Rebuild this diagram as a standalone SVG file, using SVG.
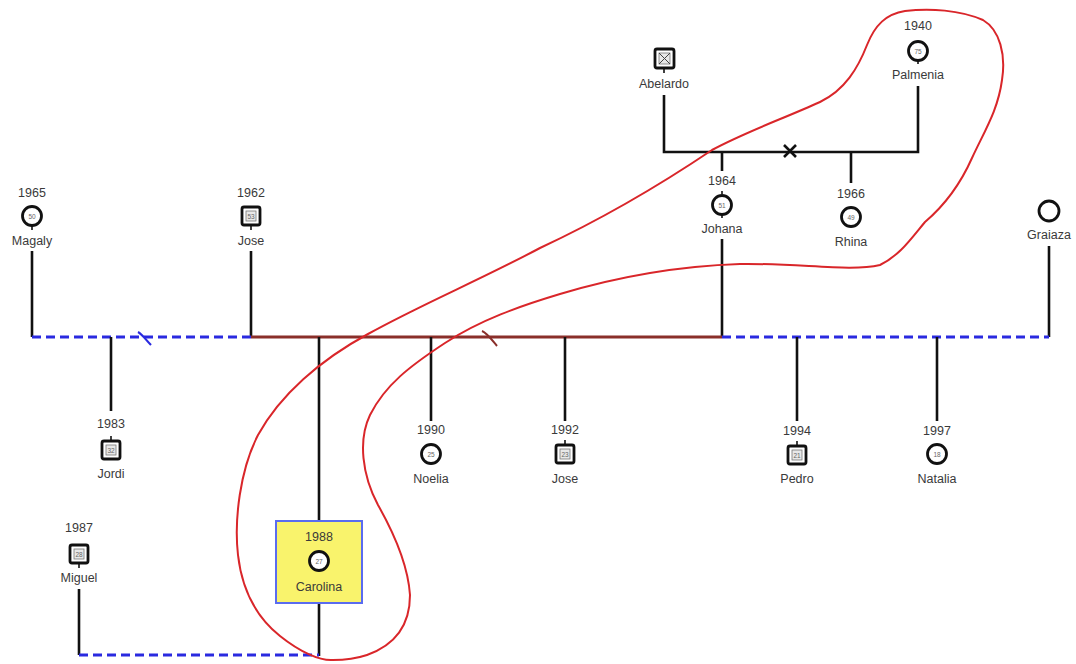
<svg xmlns="http://www.w3.org/2000/svg" width="1076" height="664" viewBox="0 0 1076 664">
  <style>
    .lbl { font-family: "Liberation Sans", Arial, sans-serif; font-size: 12.5px; fill: #3a3a3a; text-anchor: middle; }
    .age { font-family: "Liberation Sans", Arial, sans-serif; font-size: 6.5px; fill: #666; text-anchor: middle; }
    .f { fill: #ffffff; stroke: #111; stroke-width: 2.8; }
    .m { fill: #ffffff; stroke: #111; stroke-width: 2.8; }
    .in { fill: #e8e8e8; stroke: #777; stroke-width: 0.8; }
    .tick { stroke: #111; stroke-width: 1.6; }
    .line { stroke: #111; stroke-width: 2.6; fill: none; }
    .dash { stroke: #2a2ae0; stroke-width: 3; stroke-dasharray: 9 5; fill: none; }
    .union { stroke: #8a2f2a; stroke-width: 3; fill: none; }
    .loop { stroke: #d9262a; stroke-width: 2; fill: none; stroke-linejoin: round; }
  </style>
  <rect width="1076" height="664" fill="#ffffff"/>

  <!-- connectors -->
  <g id="connectors">
    <!-- Abelardo + Palmenia -->
    <polyline class="line" points="664,95 664,152 918,152 918,86"/>
    <path d="M784,145 L796,157 M796,145 L784,157" stroke="#111" stroke-width="2.6"/>
    <line class="line" x1="722" y1="152" x2="722" y2="171"/>
    <line class="line" x1="851" y1="152" x2="851" y2="183"/>
    <!-- Johana to main line -->
    <line class="line" x1="722" y1="239" x2="722" y2="337"/>
    <!-- Magaly, Jose, Graiaza drops -->
    <line class="line" x1="32" y1="251" x2="32" y2="337"/>
    <line class="line" x1="251" y1="251" x2="251" y2="337"/>
    <line class="line" x1="1049" y1="246" x2="1049" y2="337"/>
    <!-- main partner line -->
    <line class="dash" x1="32" y1="337" x2="251" y2="337"/>
    <path d="M138,332 C142,334 146,340 151,345" stroke="#2a2ae0" stroke-width="2.2" fill="none"/>
    <line class="union" x1="251" y1="337" x2="722" y2="337"/>
    <path d="M482,331 C487,333 492,340 497,346" stroke="#8a2f2a" stroke-width="2" fill="none"/>
    <line class="dash" x1="722" y1="337" x2="1049" y2="337"/>
    <!-- children drops -->
    <line class="line" x1="111" y1="337" x2="111" y2="411"/>
    <line class="line" x1="319" y1="337" x2="319" y2="521"/>
    <line class="line" x1="319" y1="603" x2="319" y2="656"/>
    <line class="line" x1="431" y1="337" x2="431" y2="421"/>
    <line class="line" x1="565" y1="337" x2="565" y2="421"/>
    <line class="line" x1="797" y1="337" x2="797" y2="421"/>
    <line class="line" x1="937" y1="337" x2="937" y2="421"/>
    <!-- Miguel + Carolina -->
    <line class="line" x1="79" y1="589" x2="79" y2="655"/>
    <line class="dash" x1="79" y1="655" x2="319" y2="655"/>
  </g>

  <!-- Abelardo -->
  <g id="abelardo">
    <rect class="m" x="655" y="49" width="19" height="19" rx="2"/>
    <rect class="in" x="659" y="53" width="11" height="11"/>
    <path d="M659,53 L670,64 M670,53 L659,64" stroke="#444" stroke-width="1"/>
    <line class="tick" x1="664" y1="68" x2="664" y2="73"/>
    <text class="lbl" x="664" y="88">Abelardo</text>
  </g>

  <!-- Palmenia -->
  <g id="palmenia">
    <text class="lbl" x="918" y="30">1940</text>
    <circle class="f" cx="918" cy="51" r="9.5"/>
    <text class="age" x="918" y="53.5">75</text>
    <line class="tick" x1="918" y1="60" x2="918" y2="64"/>
    <text class="lbl" x="918" y="79">Palmenia</text>
  </g>

  <!-- Johana -->
  <g id="johana">
    <text class="lbl" x="722" y="185">1964</text>
    <circle class="f" cx="722" cy="205" r="9.5"/>
    <text class="age" x="722" y="207.5">51</text>
    <line class="tick" x1="722" y1="194" x2="722" y2="191"/>
    <line class="tick" x1="722" y1="214" x2="722" y2="218"/>
    <text class="lbl" x="722" y="233">Johana</text>
  </g>

  <!-- Rhina -->
  <g id="rhina">
    <text class="lbl" x="851" y="198">1966</text>
    <circle class="f" cx="851" cy="217" r="9.5"/>
    <text class="age" x="851" y="219.5">49</text>
    <text class="lbl" x="851" y="246">Rhina</text>
  </g>

  <!-- Magaly -->
  <g id="magaly">
    <text class="lbl" x="32" y="197">1965</text>
    <circle class="f" cx="32" cy="216" r="9.5"/>
    <text class="age" x="32" y="218.5">50</text>
    <line class="tick" x1="32" y1="225" x2="32" y2="230"/>
    <text class="lbl" x="32" y="245">Magaly</text>
  </g>

  <!-- Jose (1962) -->
  <g id="jose-1962">
    <text class="lbl" x="251" y="197">1962</text>
    <rect class="m" x="242" y="207" width="18" height="18" rx="2"/>
    <rect class="in" x="246" y="211" width="10" height="10"/>
    <text class="age" x="251" y="218.5">53</text>
    <line class="tick" x1="251" y1="225" x2="251" y2="230"/>
    <text class="lbl" x="251" y="245">Jose</text>
  </g>

  <!-- Graiaza -->
  <g id="graiaza">
    <circle class="f" cx="1049" cy="211" r="10"/>
    <text class="lbl" x="1049" y="239">Graiaza</text>
  </g>

  <!-- Jordi -->
  <g id="jordi">
    <text class="lbl" x="111" y="428">1983</text>
    <rect class="m" x="102" y="441" width="18" height="18" rx="2"/>
    <rect class="in" x="106" y="445" width="10" height="10"/>
    <text class="age" x="111" y="452.5">32</text>
    <line class="tick" x1="111" y1="436" x2="111" y2="441"/>
    <text class="lbl" x="111" y="478">Jordi</text>
  </g>

  <!-- Noelia -->
  <g id="noelia">
    <text class="lbl" x="431" y="434">1990</text>
    <circle class="f" cx="431" cy="454" r="9.5"/>
    <text class="age" x="431" y="456.5">25</text>
    <text class="lbl" x="431" y="483">Noelia</text>
  </g>

  <!-- Jose (1992) -->
  <g id="jose-1992">
    <text class="lbl" x="565" y="434">1992</text>
    <rect class="m" x="556" y="445" width="18" height="18" rx="2"/>
    <rect class="in" x="560" y="449" width="10" height="10"/>
    <text class="age" x="565" y="456.5">23</text>
    <line class="tick" x1="565" y1="440" x2="565" y2="445"/>
    <text class="lbl" x="565" y="483">Jose</text>
  </g>

  <!-- Pedro -->
  <g id="pedro">
    <text class="lbl" x="797" y="435">1994</text>
    <rect class="m" x="788" y="446" width="18" height="18" rx="2"/>
    <rect class="in" x="792" y="450" width="10" height="10"/>
    <text class="age" x="797" y="457.5">21</text>
    <line class="tick" x1="797" y1="441" x2="797" y2="446"/>
    <text class="lbl" x="797" y="483">Pedro</text>
  </g>

  <!-- Natalia -->
  <g id="natalia">
    <text class="lbl" x="937" y="435">1997</text>
    <circle class="f" cx="937" cy="454" r="9.5"/>
    <text class="age" x="937" y="456.5">18</text>
    <text class="lbl" x="937" y="483">Natalia</text>
  </g>

  <!-- Miguel -->
  <g id="miguel">
    <text class="lbl" x="79" y="532">1987</text>
    <rect class="m" x="70" y="545" width="18" height="18" rx="2"/>
    <rect class="in" x="74" y="549" width="10" height="10"/>
    <text class="age" x="79" y="556.5">28</text>
    <line class="tick" x1="79" y1="563" x2="79" y2="568"/>
    <text class="lbl" x="79" y="582">Miguel</text>
  </g>

  <!-- Carolina (index person) -->
  <g id="carolina">
    <rect x="276" y="521" width="86" height="82" fill="#f9f36c" stroke="#5a6cf0" stroke-width="2"/>
    <text class="lbl" x="319" y="541">1988</text>
    <circle class="f" cx="319" cy="561" r="9.5"/>
    <text class="age" x="319" y="563.5">27</text>
    <text class="lbl" x="319" y="591">Carolina</text>
  </g>

  <!-- freehand highlight loop -->
  <g id="highlight">
    <path class="loop" d="M333,660 C320,661 300,652 280,636 C255,616 242,590 238,555 C234,520 240,470 258,435 C280,395 320,360 368,334 C420,305 480,280 540,248 C600,220 660,185 712,150 C745,132 785,118 820,102 C845,90 858,68 867,45 C875,25 886,14 905,11 C930,8 960,10 983,20 C1000,30 1006,55 1002,80 C998,110 985,130 972,158 C960,185 945,205 925,222 C910,240 900,255 880,265 C850,272 800,263 740,264 C680,266 620,276 560,294 C520,306 480,320 445,343 C410,366 385,385 370,415 C358,440 362,475 378,505 C395,535 408,565 410,595 C410,625 395,645 367,655 C355,659 345,660 333,660 Z"/>
  </g>
</svg>
